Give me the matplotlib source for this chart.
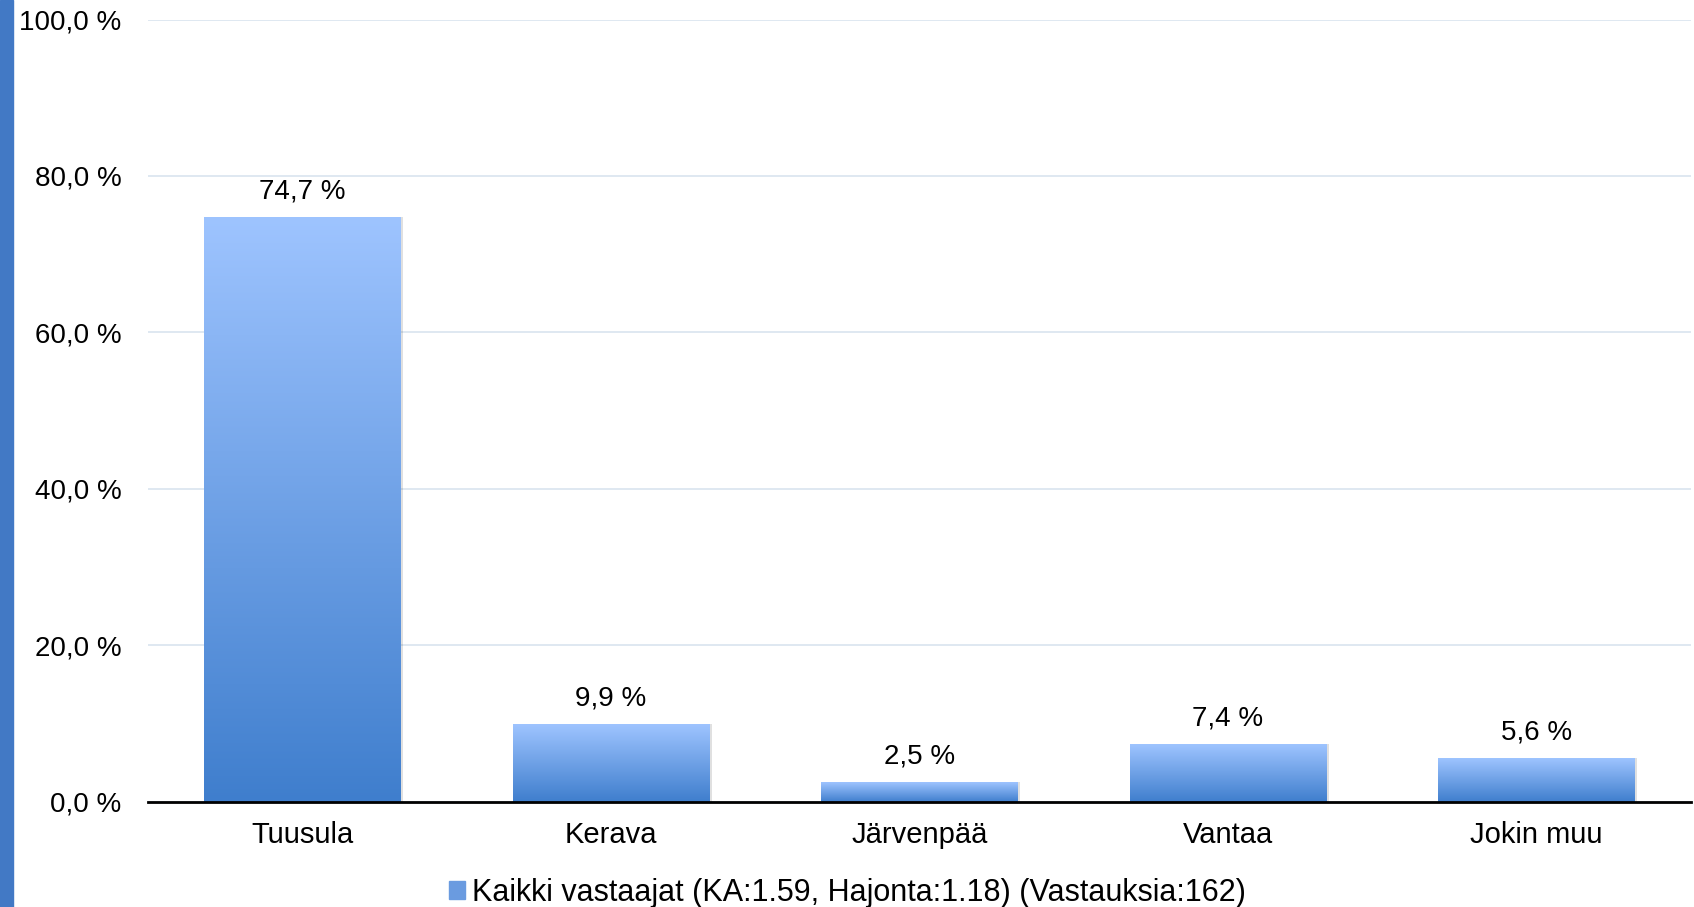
import numpy as np
import matplotlib.pyplot as plt
from matplotlib.patches import Rectangle, Patch
from matplotlib.colors import LinearSegmentedColormap

# data
categories = ["Tuusula", "Kerava", "Järvenpää", "Vantaa", "Jokin muu"]
values = [74.7, 9.9, 2.5, 7.4, 5.6]
yticks = [0, 20, 40, 60, 80, 100]
legend_label = "Kaikki vastaajat (KA:1.59, Hajonta:1.18) (Vastauksia:162)"

plt.rcParams['font.family'] = ['Liberation Sans', 'DejaVu Sans']

fig = plt.figure(figsize=(16.94, 9.07), dpi=100)
ax = fig.add_axes([0.0874, 0.1161, 0.9106, 0.8624])

# blue strip on the left edge
fig.patches.append(Rectangle((0, 0), 13/1694, 1, transform=fig.transFigure,
                             color='#4279C5', zorder=0))

grad = LinearSegmentedColormap.from_list('g', ['#3F7ECD', '#9EC4FF'])
x = np.arange(len(categories))
bars = ax.bar(x, values, width=0.637, color='none', zorder=3)
for b, v in zip(bars, values):
    x0, w = b.get_x(), b.get_width()
    # soft shadow
    ax.add_patch(Rectangle((x0 + 0.008, 0), w, v, color='#000000', alpha=0.12, zorder=2, lw=0))
    img = np.linspace(0, 1, 256).reshape(-1, 1)
    im = ax.imshow(img, cmap=grad, extent=[x0, x0 + w, 0, v], origin='lower',
                   aspect='auto', zorder=3, interpolation='bicubic')
    im.set_clip_path(b)
    ax.text(b.get_x() + w/2, v + 1.6, ("%.1f %%" % v).replace('.', ','),
            ha='center', va='bottom', fontsize=20)

ax.set_xlim(-0.5, len(categories) - 0.5)
ax.set_ylim(0, 100)
ax.set_yticks(yticks)
ax.set_yticklabels([("%.1f %%" % t).replace('.', ',') for t in yticks], fontsize=20)
ax.set_xticks(x)
ax.set_xticklabels(categories, fontsize=21)
ax.tick_params(axis='y', length=0, pad=19)
ax.tick_params(axis='x', length=0, pad=14)
ax.grid(axis='y', color='#DCE6F0', lw=1.3, zorder=0)
ax.set_axisbelow(True)
for s in ['top', 'right', 'left']:
    ax.spines[s].set_visible(False)
ax.spines['bottom'].set_linewidth(2)
ax.spines['bottom'].set_zorder(5)

fig.legend(handles=[Patch(color='#6A9BE0')], labels=[legend_label],
           loc='center', bbox_to_anchor=(0.5, 1 - 893/907), frameon=False,
           fontsize=22, handlelength=0.55, handleheight=0.55, handletextpad=0.2)

fig.savefig('out.png', dpi=100)
